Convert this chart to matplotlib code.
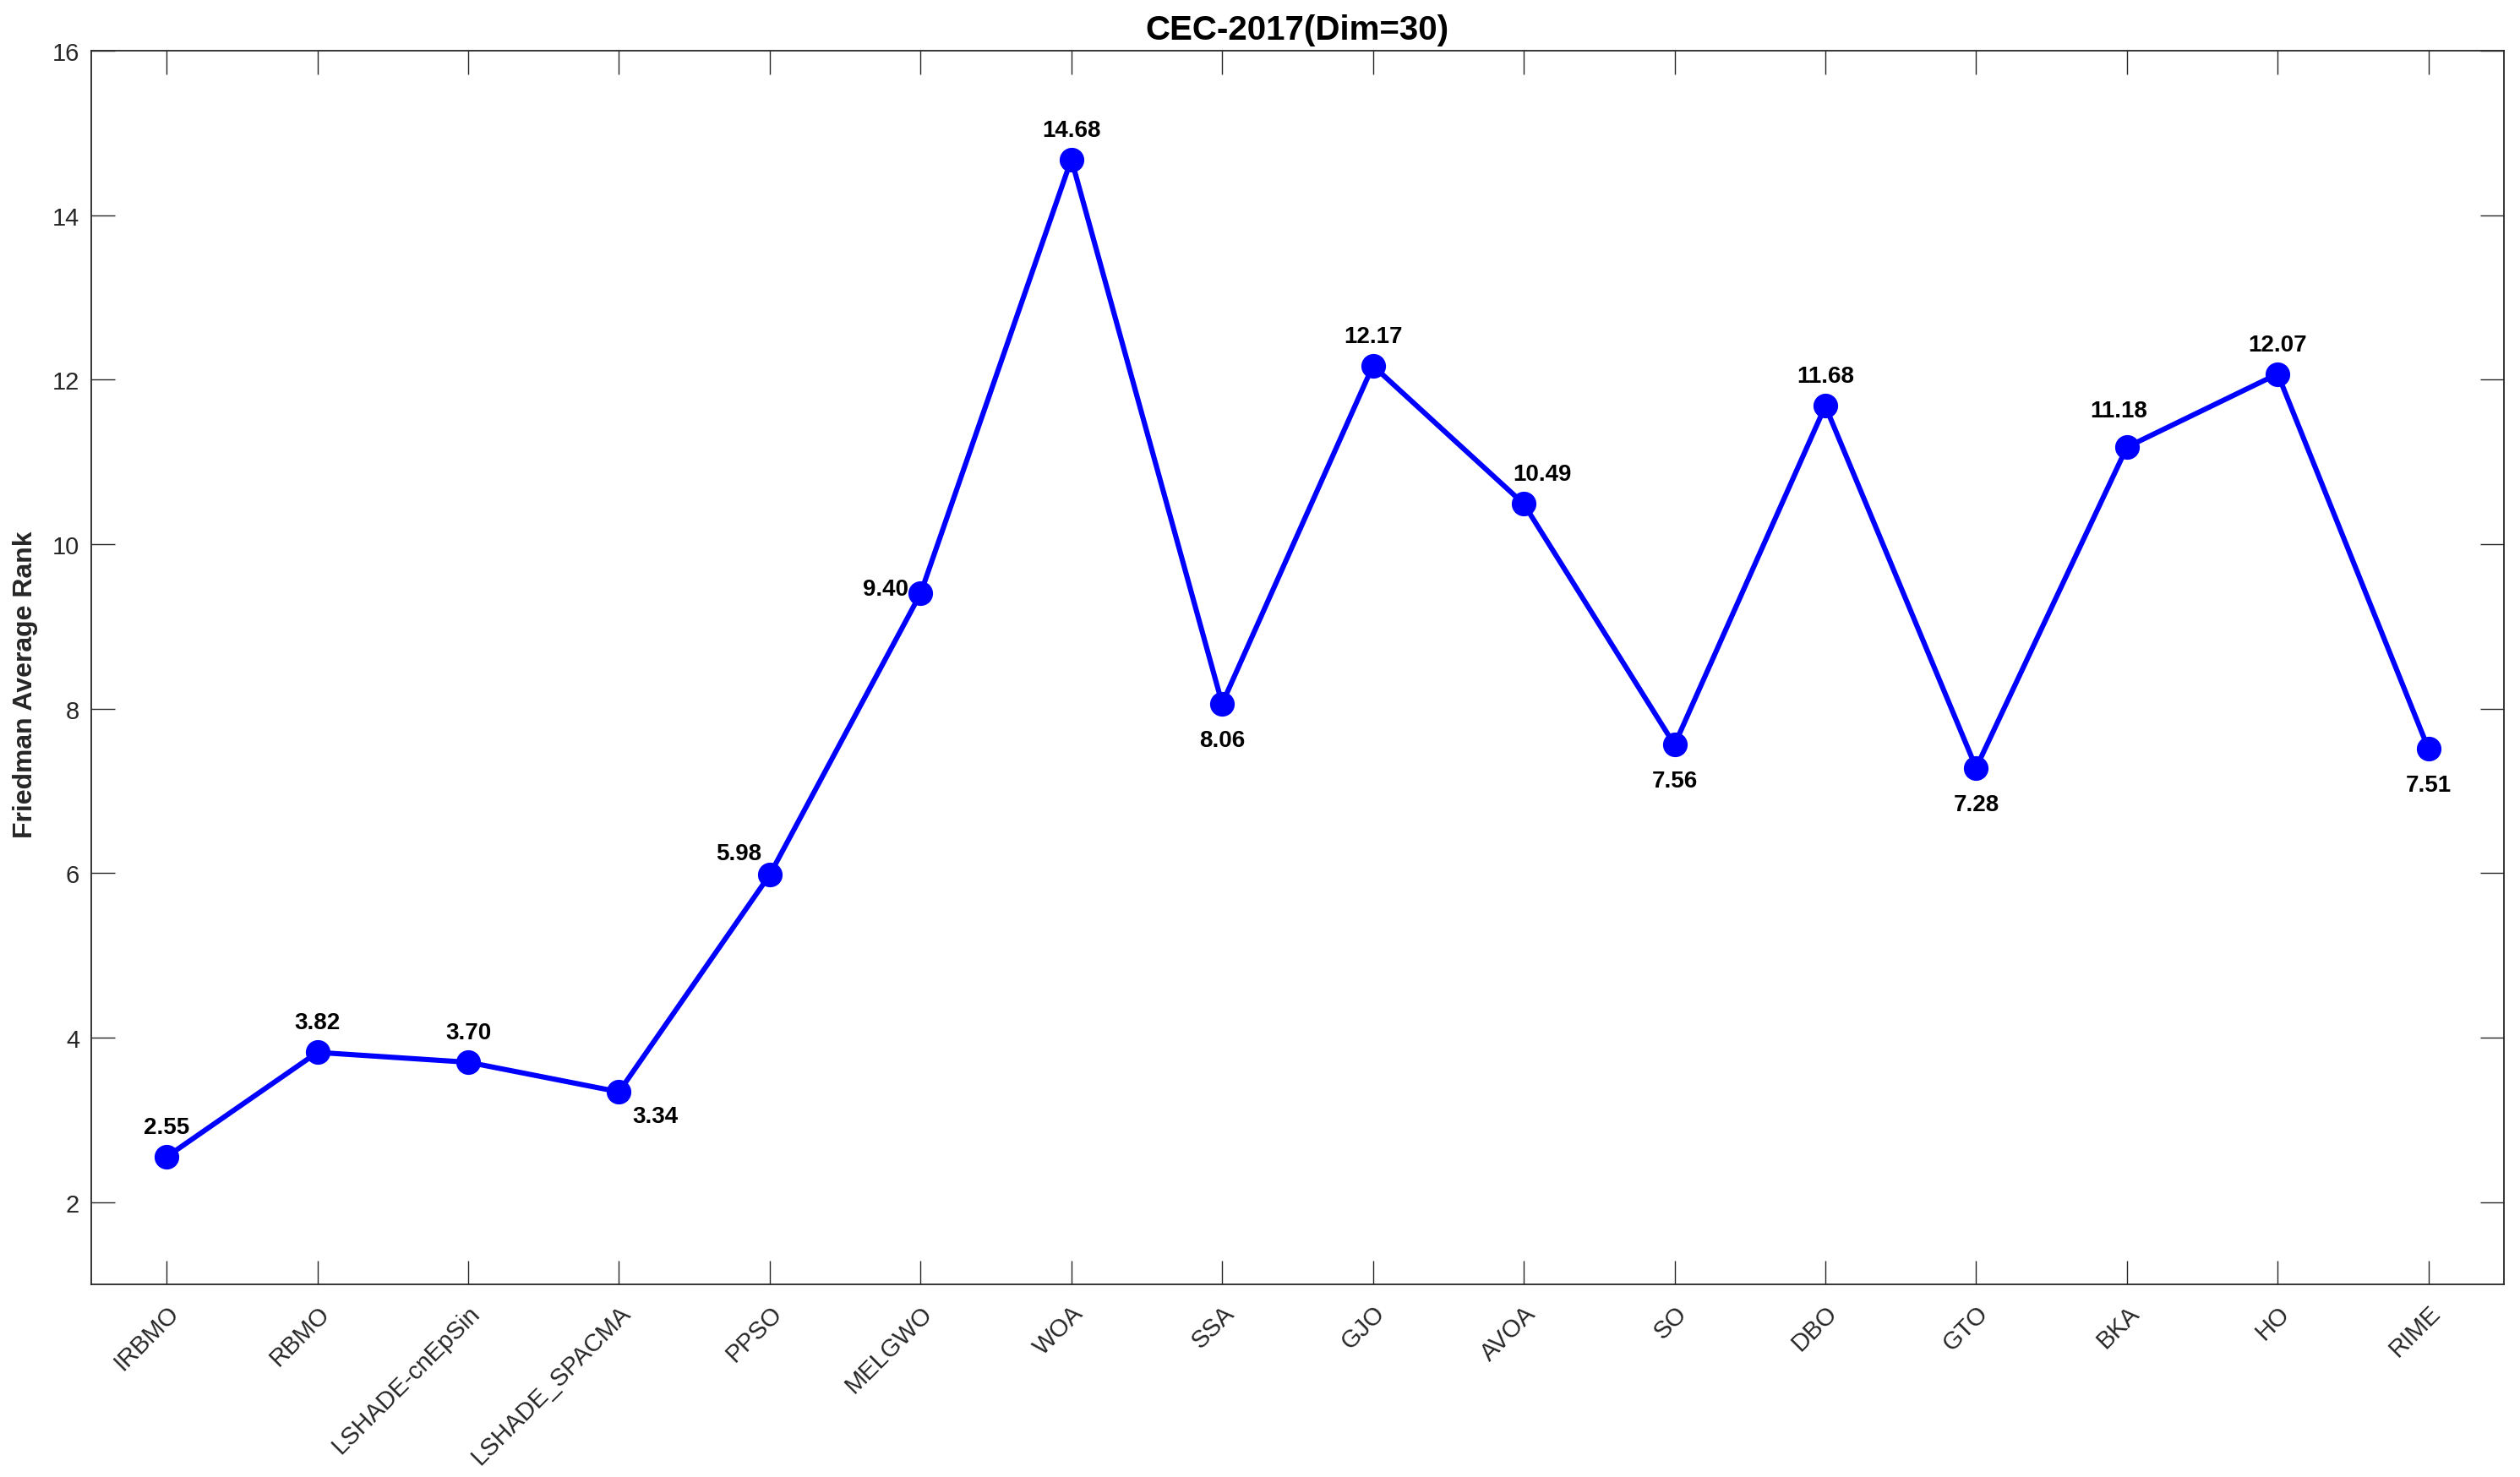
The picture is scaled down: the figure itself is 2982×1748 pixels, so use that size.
import matplotlib
matplotlib.use("Agg")
import matplotlib.pyplot as plt

plt.rcParams['font.family'] = ['Liberation Sans', 'DejaVu Sans']

algorithms = ["IRBMO", "RBMO", "LSHADE-cnEpSin", "LSHADE_SPACMA", "PPSO", "MELGWO",
              "WOA", "SSA", "GJO", "AVOA", "SO", "DBO", "GTO", "BKA", "HO", "RIME"]
avg_rank = [2.55, 3.82, 3.70, 3.34, 5.98, 9.40, 14.68, 8.06, 12.17, 10.49,
            7.56, 11.68, 7.28, 11.18, 12.07, 7.51]
y_ticks = [2, 4, 6, 8, 10, 12, 14, 16]

# label offsets in pixels (dx, dy, ha, va)
ABOVE = (0, 22, "center", "bottom")
BELOW = (0, -30, "center", "top")
label_pos = [ABOVE, ABOVE, ABOVE, (16, -16, "left", "top"), (-10, 12, "right", "bottom"),
             (-14, 5, "right", "center"), ABOVE, BELOW, ABOVE, (22, 22, "center", "bottom"),
             BELOW, ABOVE, BELOW, (-10, 30, "center", "bottom"), ABOVE, BELOW]

AX_COLOR = "#262626"

fig = plt.figure(figsize=(29.82, 17.49), dpi=100)
ax = fig.add_axes([0.0362, 0.1304, 0.9574, 0.8347])

x = list(range(1, len(algorithms) + 1))
ax.plot(x, avg_rank, color=(0, 0, 1), linewidth=4.4, marker="o", markersize=20,
        markerfacecolor=(0, 0, 1), markeredgecolor=(0, 0, 1), zorder=3)

for xi, yi, (dx, dy, ha, va) in zip(x, avg_rank, label_pos):
    ax.annotate(f"{yi:.2f}", (xi, yi), xytext=(dx, dy), textcoords="offset pixels",
                ha=ha, va=va, fontsize=20, fontweight="bold", color="black")

ax.set_xlim(0.5, len(algorithms) + 0.5)
ax.set_ylim(1, 16)
ax.set_xticks(x)
ax.set_xticklabels(algorithms, rotation=45, ha="right", va="top",
                   rotation_mode="anchor", fontsize=21, color=AX_COLOR)
ax.set_yticks(y_ticks)
ax.set_yticklabels([str(t) for t in y_ticks], fontsize=21, color=AX_COLOR)

ax.tick_params(direction="in", length=20, width=1.0, colors=AX_COLOR,
               top=True, right=True, pad=10)
ax.tick_params(axis="x", pad=14)
for s in ax.spines.values():
    s.set_color(AX_COLOR)
    s.set_linewidth(1.3)

ax.set_ylabel("Friedman Average Rank", fontsize=23, fontweight="bold", color=AX_COLOR)
ax.yaxis.set_label_coords(-0.022, 0.487)
ax.set_title("CEC-2017(Dim=30)", fontsize=29, fontweight="bold", color="black", pad=10)

fig.savefig("out.png", dpi=100)
